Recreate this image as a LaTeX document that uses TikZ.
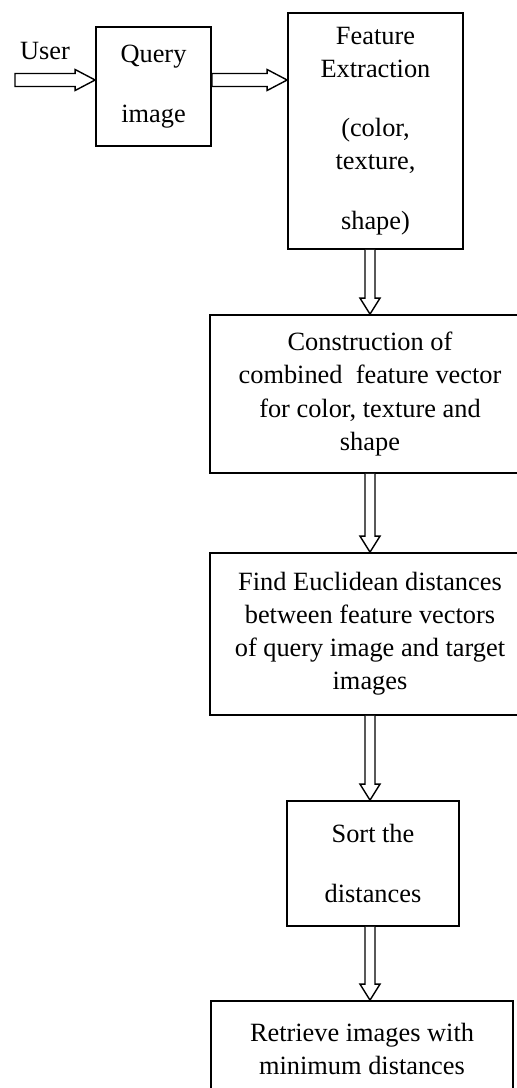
\documentclass[tikz,border=0pt]{standalone}
\usepackage{fontspec}
\setmainfont{Liberation Serif}
\usetikzlibrary{calc}

\newcommand{\fatright}[2]{%
  \draw [fat] ($(#1)+(0,0.65)$) -- ($(#2)+(-2,0.65)$) -- ($(#2)+(-2,1.05)$) -- (#2)
    -- ($(#2)+(-2,-1.05)$) -- ($(#2)+(-2,-0.65)$) -- ($(#1)+(0,-0.65)$) -- cycle;}
\newcommand{\fatdown}[2]{%
  \draw [fat] ($(#1)+(-0.5,0)$) -- ($(#2)+(-0.5,1.6)$) -- ($(#2)+(-1,1.6)$) -- (#2)
    -- ($(#2)+(1,1.6)$) -- ($(#2)+(0.5,1.6)$) -- ($(#1)+(0.5,0)$);}

\begin{document}
\begin{tikzpicture}[x=2mm,y=2mm,
  box/.style={draw, line width=1pt, align=center, inner sep=0pt,
    font=\fontsize{15}{18.8}\selectfont},
  fat/.style={draw, fill=white, line width=0.8pt, line join=miter}]
\useasboundingbox (0,0) rectangle (51.7,-108.8);
\node (usr) at (4.5,-5.9) [anchor=base, font=\fontsize{15}{18.8}\selectfont] {User};
\coordinate (start) at (1.5,-8.0);
\node (query) at (15.35,-8.65) [box, minimum width=23mm, minimum height=23.8mm] {Query\\[15pt]image};
\node (feat) at (37.55,-13.1) [box, minimum width=35mm, minimum height=47.2mm]
  {Feature\\Extraction\\[15pt](color,\\texture,\\[15pt]shape)};
\node (cons) at (37.0,-39.4) [box, minimum width=64mm, minimum height=31.6mm]
  {Construction of\\combined~ feature vector\\for color, texture and\\shape};
\node (find) at (37.0,-63.4) [box, minimum width=64mm, minimum height=32.4mm]
  {Find Euclidean distances\\between feature vectors\\of query image and target\\images};
\node (sort) at (37.3,-86.35) [box, minimum width=34.4mm, minimum height=25mm] {Sort the\\[15pt]distances};
\node (ret) at (36.2,-104.85) [box, minimum width=60.4mm, minimum height=19mm]
  {Retrieve images with\\minimum distances};
\fatright{start}{query.west |- start}
\fatright{query.east |- start}{feat.west |- start}
\fatdown{feat.south -| cons}{cons.north}
\fatdown{cons.south}{find.north}
\fatdown{find.south}{sort.north -| find}
\fatdown{sort.south -| find}{ret.north -| find}
\end{tikzpicture}
\end{document}
